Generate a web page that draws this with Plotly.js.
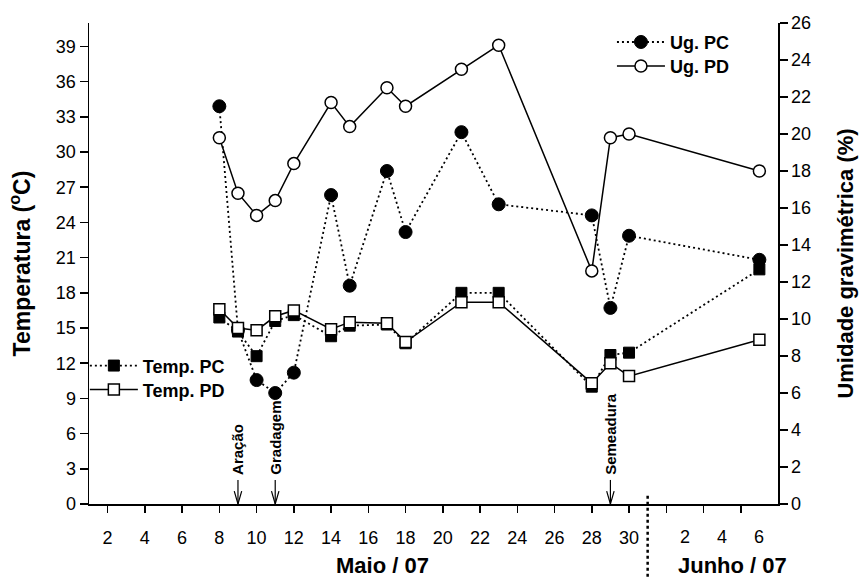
<!DOCTYPE html>
<html>
<head>
<meta charset="utf-8">
<script src="https://cdn.plot.ly/plotly-3.0.1.min.js"></script>
<style>html,body{margin:0;padding:0;background:#fff;}#chart{width:859px;height:577px;}</style>
</head>
<body>
<div id="chart"></div>
<script>
// Day index: May days 1..31, June days = 31 + day (June 6 -> 37)
const days   = [8, 9, 10, 11, 12, 14, 15, 17, 18, 21, 23, 28, 29, 30, 37];
const ugPC   = [21.5, 9.4, 6.7, 6.0, 7.1, 16.7, 11.8, 18.0, 14.7, 20.1, 16.2, 15.6, 10.6, 14.5, 13.2];
const ugPD   = [19.8, 16.8, 15.6, 16.4, 18.4, 21.7, 20.4, 22.5, 21.5, 23.5, 24.8, 12.6, 19.8, 20.0, 18.0];
const tempPC = [15.9, 14.7, 12.6, 15.6, 16.1, 14.3, 15.2, 15.3, 13.7, 18.0, 18.0, 10.0, 12.7, 12.9, 20.0];
const tempPD = [16.6, 15.0, 14.8, 16.0, 16.5, 14.9, 15.5, 15.4, 13.8, 17.2, 17.2, 10.3, 12.0, 10.9, 14.0];

const mayTickVals = [2,4,6,8,10,12,14,16,18,20,22,24,26,28,30];
const mayTickText = ['2','4','6','8','10','12','14','16','18','20','22','24','26','28','30'];
const juneTickVals = [32, 34, 36];
const juneLabelDays = [33, 35, 37];
const juneLabels = ['2', '4', '6'];
const monthBreakDay = 31;

const eventLabels = ['Aração', 'Gradagem', 'Semeadura'];
const eventDays = [9, 11, 29];

const tempTicks = [0,3,6,9,12,15,18,21,24,27,30,33,36,39];

const FONT = 'Liberation Sans, Arial, Helvetica, sans-serif';
const dotted = '2px,3px';
const legFont = {family: FONT, size: 18, color: '#000', weight: 'bold'};

const traces = [
  {x: days, y: ugPC, name: 'Ug. PC', yaxis: 'y', legend: 'legend', mode: 'lines+markers',
   line: {color: '#000', width: 1.8, dash: dotted},
   marker: {symbol: 'circle', size: 13, color: '#000', line: {color: '#000', width: 1}}},
  {x: days, y: ugPD, name: 'Ug. PD', yaxis: 'y', legend: 'legend2', mode: 'lines+markers',
   line: {color: '#000', width: 1.5},
   marker: {symbol: 'circle', size: 12, color: '#fff', line: {color: '#000', width: 1.5}}},
  {x: days, y: tempPC, name: 'Temp. PC', yaxis: 'y2', legend: 'legend3', mode: 'lines+markers',
   line: {color: '#000', width: 1.8, dash: dotted},
   marker: {symbol: 'square', size: 11, color: '#000', line: {color: '#000', width: 1}}},
  {x: days, y: tempPD, name: 'Temp. PD', yaxis: 'y2', legend: 'legend4', mode: 'lines+markers',
   line: {color: '#000', width: 1.5},
   marker: {symbol: 'square', size: 11, color: '#fff', line: {color: '#000', width: 1.5}}}
];

const annotations = [];
const shapes = [];
eventLabels.forEach((lab, i) => {
  annotations.push({x: eventDays[i], y: 2.35, xref: 'x', yref: 'y2', text: lab, showarrow: false,
    textangle: -90, xanchor: 'center', yanchor: 'bottom',
    font: {family: FONT, size: 15, color: '#000', weight: 'bold'}});
  shapes.push({type: 'line', xref: 'x', yref: 'y2', x0: eventDays[i], x1: eventDays[i], y0: 0, y1: 2.05,
    line: {color: '#000', width: 1.2}});
  shapes.push({type: 'path', xref: 'x', yref: 'y2',
    path: `M${eventDays[i]-0.2},1.1 L${eventDays[i]},0 L${eventDays[i]+0.2},1.1`,
    line: {color: '#000', width: 1.2}});
});
juneLabels.forEach((lab, i) => {
  annotations.push({x: juneLabelDays[i], y: 0, xref: 'x', yref: 'paper', text: lab, showarrow: false,
    xanchor: 'center', yanchor: 'top', yshift: -21,
    font: {family: FONT, size: 18, color: '#000'}});
});
annotations.push({x: 0.426, y: -0.128, xref: 'paper', yref: 'paper', text: 'Maio / 07', showarrow: false,
  xanchor: 'center', yanchor: 'middle', font: {family: FONT, size: 22, color: '#000', weight: 'bold'}});
annotations.push({x: 0.934, y: -0.128, xref: 'paper', yref: 'paper', text: 'Junho / 07', showarrow: false,
  xanchor: 'center', yanchor: 'middle', font: {family: FONT, size: 22, color: '#000', weight: 'bold'}});

shapes.push({type: 'line', xref: 'x', yref: 'paper', x0: monthBreakDay, x1: monthBreakDay, y0: -0.151, y1: 0.023,
  line: {color: '#000', width: 2.5, dash: 'dot'}});

function leg(x, y) {
  return {x: x, y: y, xanchor: 'left', yanchor: 'middle', bgcolor: 'rgba(0,0,0,0)', borderwidth: 0,
    itemwidth: 48, font: legFont};
}

const layout = {
  width: 859, height: 577,
  margin: {l: 89, r: 81, t: 23, b: 73},
  paper_bgcolor: '#fff', plot_bgcolor: '#fff',
  font: {family: FONT, color: '#000', size: 18},
  showlegend: true,
  xaxis: {range: [1, 38], tickmode: 'array', tickvals: mayTickVals, ticktext: mayTickText,
    ticks: 'outside', ticklen: 7, tickwidth: 1.5, tickcolor: '#000',
    minor: {tickvals: juneTickVals, ticks: 'outside', ticklen: 7, tickwidth: 1.5, tickcolor: '#000', showgrid: false},
    showline: true, linewidth: 1.5, linecolor: '#000', showgrid: false, zeroline: false,
    tickfont: {family: FONT, size: 18, color: '#000'}, ticklabelstandoff: 10},
  yaxis: {range: [0, 26], side: 'right', dtick: 2, tick0: 0,
    ticks: 'outside', ticklen: 8, tickwidth: 1.5, tickcolor: '#000',
    showline: true, linewidth: 1.5, linecolor: '#000', showgrid: false, zeroline: false,
    tickfont: {family: FONT, size: 18, color: '#000'},
    title: {text: 'Umidade gravimétrica (%)', standoff: 27, font: {family: FONT, size: 22, color: '#000', weight: 'bold'}}},
  yaxis2: {range: [0, 41], overlaying: 'y', side: 'left', tickmode: 'array', tickvals: tempTicks,
    ticks: 'outside', ticklen: 8, tickwidth: 1.5, tickcolor: '#000',
    showline: true, linewidth: 1.5, linecolor: '#000', showgrid: false, zeroline: false,
    tickfont: {family: FONT, size: 18, color: '#000'},
    title: {text: 'Temperatura (<sup>o</sup>C)', standoff: 19, font: {family: FONT, size: 23, color: '#000', weight: 'bold'}}},
  legend: leg(0.759, (504.3 - 42) / 481.6),
  legend2: leg(0.759, (504.3 - 66) / 481.6),
  legend3: leg(-0.006, (504.3 - 366) / 481.6),
  legend4: leg(-0.006, (504.3 - 390) / 481.6),
  annotations: annotations,
  shapes: shapes
};

Plotly.newPlot('chart', traces, layout, {displayModeBar: false, staticPlot: true});
</script>
</body>
</html>
